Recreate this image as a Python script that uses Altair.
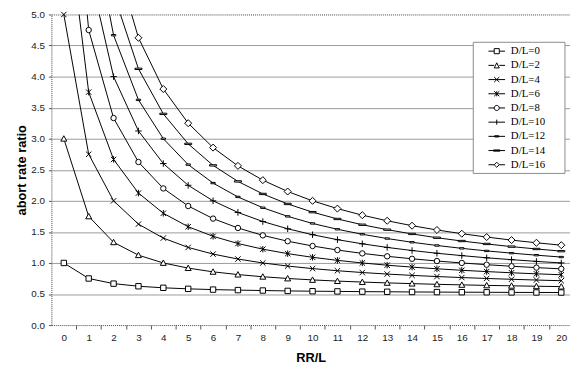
import altair as alt
import pandas as pd

rr_l = list(range(21))
series_names = ["D/L=0", "D/L=2", "D/L=4", "D/L=6", "D/L=8",
                "D/L=10", "D/L=12", "D/L=14", "D/L=16"]

dl0 = [1.0, 0.75, 0.667, 0.625, 0.6, 0.583, 0.571, 0.563, 0.556, 0.55, 0.545,
       0.542, 0.538, 0.536, 0.533, 0.531, 0.529, 0.528, 0.526, 0.525, 0.524]
dl2 = [3.0, 1.75, 1.333, 1.125, 1.0, 0.917, 0.857, 0.813, 0.778, 0.75, 0.727,
       0.708, 0.692, 0.679, 0.667, 0.656, 0.647, 0.639, 0.632, 0.625, 0.619]
dl4 = [5.0, 2.75, 2.0, 1.625, 1.4, 1.25, 1.143, 1.063, 1.0, 0.95, 0.909,
       0.875, 0.846, 0.821, 0.8, 0.781, 0.765, 0.75, 0.737, 0.725, 0.714]
dl6 = [7.0, 3.75, 2.667, 2.125, 1.8, 1.583, 1.429, 1.313, 1.222, 1.15, 1.091,
       1.042, 1.0, 0.964, 0.933, 0.906, 0.882, 0.861, 0.842, 0.825, 0.81]
dl8 = [9.0, 4.75, 3.333, 2.625, 2.2, 1.917, 1.714, 1.563, 1.444, 1.35, 1.273,
       1.208, 1.154, 1.107, 1.067, 1.031, 1.0, 0.972, 0.947, 0.925, 0.905]
dl10 = [11.0, 5.75, 4.0, 3.125, 2.6, 2.25, 2.0, 1.813, 1.667, 1.55, 1.455,
        1.375, 1.308, 1.25, 1.2, 1.156, 1.118, 1.083, 1.053, 1.025, 1.0]
dl12 = [13.0, 6.75, 4.667, 3.625, 3.0, 2.583, 2.286, 2.063, 1.889, 1.75, 1.636,
        1.542, 1.462, 1.393, 1.333, 1.281, 1.235, 1.194, 1.158, 1.125, 1.095]
dl14 = [15.0, 7.75, 5.333, 4.125, 3.4, 2.917, 2.571, 2.313, 2.111, 1.95, 1.818,
        1.708, 1.615, 1.536, 1.467, 1.406, 1.353, 1.306, 1.263, 1.225, 1.19]
dl16 = [17.0, 8.75, 6.0, 4.625, 3.8, 3.25, 2.857, 2.563, 2.333, 2.15, 2.0,
        1.875, 1.769, 1.679, 1.6, 1.531, 1.471, 1.417, 1.368, 1.325, 1.286]

all_vals = [dl0, dl2, dl4, dl6, dl8, dl10, dl12, dl14, dl16]
y_ticks = [0, 0.5, 1, 1.5, 2, 2.5, 3, 3.5, 4, 4.5, 5]

rows = []
for name, vals in zip(series_names, all_vals):
    for xv, yv in zip(rr_l, vals):
        rows.append({"series": name, "x": xv, "y": yv})
df = pd.DataFrame(rows)

# marker shapes (unit square -1..1)
marker_paths = [
    "M-1,-1H1V1H-1Z",
    "M0,-1.1L1.1,0.9H-1.1Z",
    "M-1,-1L1,1M-1,1L1,-1",
    "M-1,-1L1,1M-1,1L1,-1M0,-1.2V1.2",
    "circle",
    "M-1.2,0H1.2M0,-1.2V1.2",
    "M-0.8,-0.25H0.8V0.25H-0.8Z",
    "M-1.3,-0.25H1.3V0.25H-1.3Z",
    "M0,-1.3L1.3,0L0,1.3L-1.3,0Z",
]
m = 0.43
legend_paths = [
    f"M-1.4,0H-{m}M{m},0H1.4M-{m},-{m}H{m}V{m}H-{m}Z",
    f"M-1.4,0H-{m}M{m},0H1.4M0,-{m}L{m},{m}H-{m}Z",
    f"M-1.4,0H1.4M-{m},-{m}L{m},{m}M-{m},{m}L{m},-{m}",
    f"M-1.4,0H1.4M-{m},-{m}L{m},{m}M-{m},{m}L{m},-{m}M0,-{m}V{m}",
    f"M-1.4,0H-{m}M{m},0H1.4M-{m},0A{m},{m} 0 1,0 {m},0A{m},{m} 0 1,0 -{m},0Z",
    f"M-1.4,0H1.4M0,-{m}V{m}",
    "M-1.4,0H1.4M-0.35,-0.1H0.35V0.1H-0.35Z",
    "M-1.4,0H1.4M-0.55,-0.1H0.55V0.1H-0.55Z",
    f"M-1.4,0H-{m}M{m},0H1.4M0,-{m}L{m},0L0,{m}L-{m},0Z",
]

xscale = alt.Scale(domain=[-0.5, 20.35], nice=False, zero=False)
yscale = alt.Scale(domain=[0, 5], nice=False, zero=False)

x_enc = alt.X(
    "x:Q", scale=xscale, title="RR/L",
    axis=alt.Axis(values=rr_l, format="d", tickOffset=12.6, labelOffset=-12.6,
                  tickSize=4, labelPadding=4, domain=False, grid=False,
                  titlePadding=9, labelFlush=False),
)
y_axis = alt.Axis(values=y_ticks, format=".1f", tickSize=3, labelPadding=4,
                  domain=False, grid=True, titlePadding=2,
                  gridColor={"condition": {"test": "datum.value == 0 || datum.value == 5",
                                           "value": "transparent"},
                             "value": "#9a9a9a"})
y_enc = alt.Y("y:Q", scale=yscale, title="abort rate ratio", axis=y_axis)

base = alt.Chart(df)

lines = base.mark_line(color="black", strokeWidth=1, clip=True).encode(
    x=x_enc, y=y_enc, detail="series:N"
)

points = base.transform_filter("datum.y <= 5.0001").mark_point(
    filled=False, color="black", fill="white", stroke="black",
    strokeWidth=1, opacity=1, size=30
).encode(
    x=x_enc, y=y_enc,
    shape=alt.Shape("series:N",
                    scale=alt.Scale(domain=series_names, range=marker_paths),
                    legend=None),
)

# legend carrier: same series, pushed outside the clipped y domain
legend_layer = base.transform_calculate(off="datum.y + 100").mark_point(
    filled=False, color="black", fill="white", strokeWidth=1, opacity=1,
    size=144, clip=True
).encode(
    x=x_enc,
    y=alt.Y("off:Q", scale=yscale, title="abort rate ratio", axis=y_axis),
    shape=alt.Shape("series:N",
                    scale=alt.Scale(domain=series_names, range=legend_paths),
                    legend=alt.Legend(
                        title=None, orient="none", legendX=427.4, legendY=27.7,
                        padding=3, strokeColor="#8a8a8a", fillColor="white",
                        symbolSize=144, symbolStrokeWidth=1,
                        symbolOffset=14.8, labelOffset=7.8, rowPadding=2.4,
                        labelFont="Liberation Serif", labelFontSize=11,
                        labelColor="black",
                        labelExpr="datum.label + '\u2800\u2800'",
                    )),
)

chart = alt.layer(lines, points, legend_layer).resolve_scale(
    shape="independent"
).properties(
    width=526, height=315,
    autosize=alt.AutoSizeParams(type="none"),
    padding={"left": 44, "top": 4, "right": 0, "bottom": 44},
).configure(
    font="Liberation Sans",
).configure_view(
    stroke="#444", strokeDash=[1, 1], strokeWidth=1, fill="white",
).configure_axis(
    labelFont="Liberation Sans", labelFontSize=10, labelColor="#222",
    titleFont="Liberation Sans", titleFontSize=13, titleFontWeight="bold",
    titleColor="black", tickColor="#555", tickWidth=1,
)

chart.save("out.html", embed_options={"renderer": "svg", "actions": False})
